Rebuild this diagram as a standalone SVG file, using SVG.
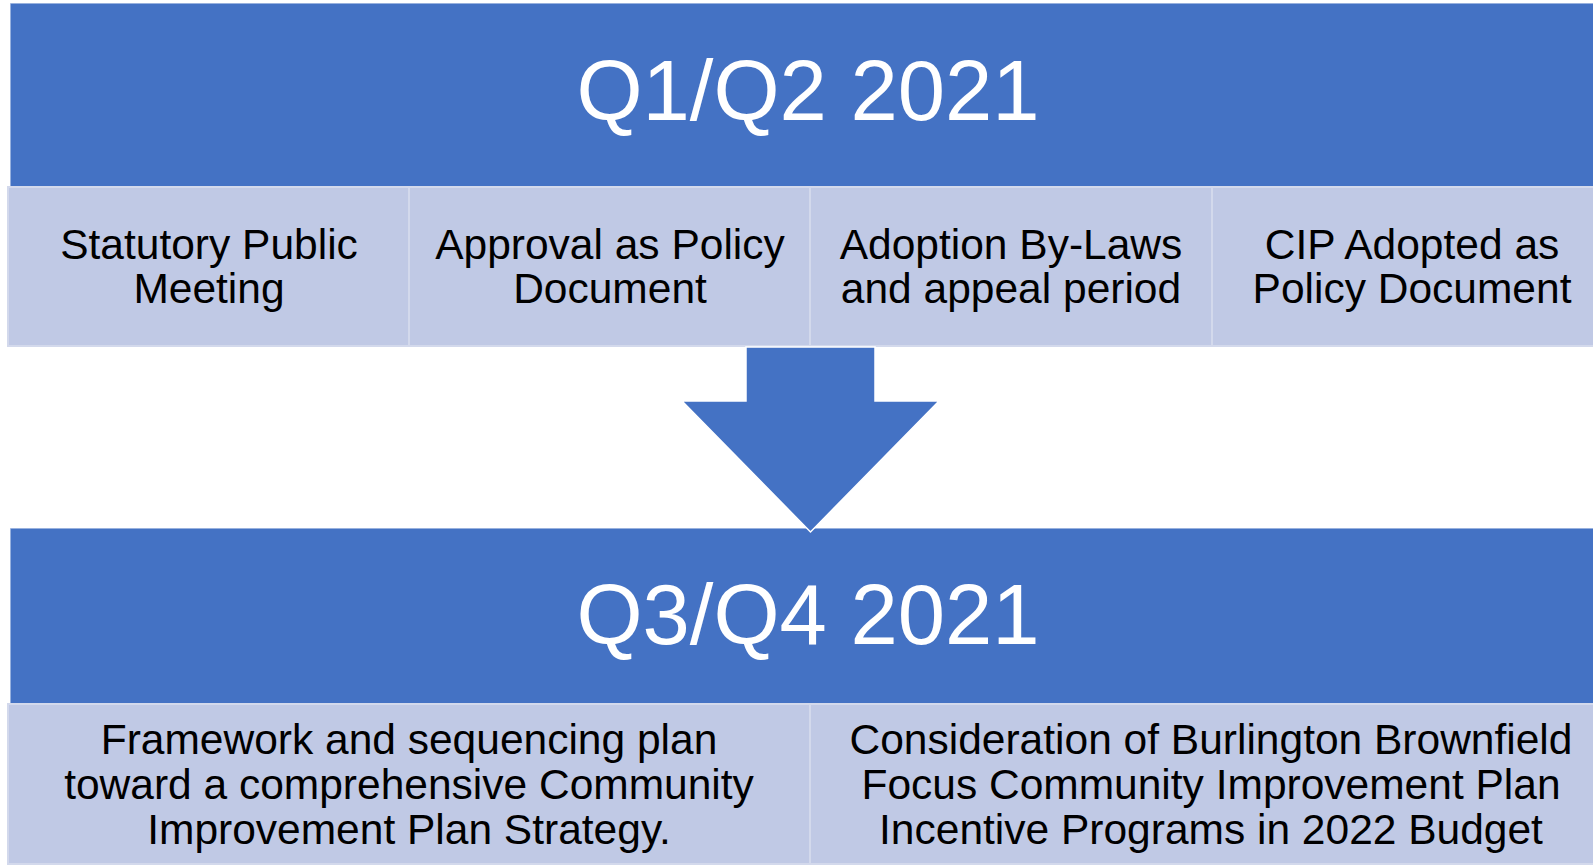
<svg xmlns="http://www.w3.org/2000/svg" width="1593" height="865" viewBox="0 0 1593 865">
<style>
.band{fill:#4472C4;stroke:#ffffff;stroke-opacity:0.6;stroke-width:1.5}
.cell{fill:#C0C9E5;stroke:#D3D9EC;stroke-width:2}
.title{font-family:"Liberation Sans",Arial,sans-serif;font-size:85px;fill:#ffffff;text-anchor:middle}
.txt{font-family:"Liberation Sans",Arial,sans-serif;font-size:42.5px;fill:#000000;text-anchor:middle}
</style>
<rect width="1593" height="865" fill="#ffffff"/>
<g id="q1q2">
<rect class="band" x="10" y="3" width="1610" height="184"/>
<text class="title" x="808" y="120">Q1/Q2 2021</text>
</g>
<g id="cell-statutory">
<rect class="cell" x="8" y="187" width="401" height="159"/>
<text class="txt" x="209" y="259">Statutory Public</text>
<text class="txt" x="209" y="303">Meeting</text>
</g>
<g id="cell-approval">
<rect class="cell" x="409" y="187" width="401" height="159"/>
<text class="txt" x="610" y="259">Approval as Policy</text>
<text class="txt" x="610" y="303">Document</text>
</g>
<g id="cell-adoption">
<rect class="cell" x="810" y="187" width="402" height="159"/>
<text class="txt" x="1011" y="259">Adoption By-Laws</text>
<text class="txt" x="1011" y="303">and appeal period</text>
</g>
<g id="cell-cip">
<rect class="cell" x="1212" y="187" width="402" height="159"/>
<text class="txt" x="1412" y="259">CIP Adopted as</text>
<text class="txt" x="1412" y="303">Policy Document</text>
</g>
<g id="q3q4">
<rect class="band" x="10" y="528" width="1610" height="176"/>
<text class="title" x="808" y="644">Q3/Q4 2021</text>
</g>
<g id="cell-framework">
<rect class="cell" x="8" y="704" width="802" height="160"/>
<text class="txt" x="409" y="754">Framework and sequencing plan</text>
<text class="txt" x="409" y="799">toward a comprehensive Community</text>
<text class="txt" x="409" y="844">Improvement Plan Strategy.</text>
</g>
<g id="cell-consideration">
<rect class="cell" x="810" y="704" width="804" height="160"/>
<text class="txt" x="1211" y="754">Consideration of Burlington Brownfield</text>
<text class="txt" x="1211" y="799">Focus Community Improvement Plan</text>
<text class="txt" x="1211" y="844">Incentive Programs in 2022 Budget</text>
</g>
<g id="connectors">
<path d="M746,347 L875,347 L875,401 L939,401 L810.5,532 L682,401 L746,401 Z" fill="#4472C4" stroke="#ffffff" stroke-width="1.5" stroke-linejoin="miter"/>
</g>
</svg>
